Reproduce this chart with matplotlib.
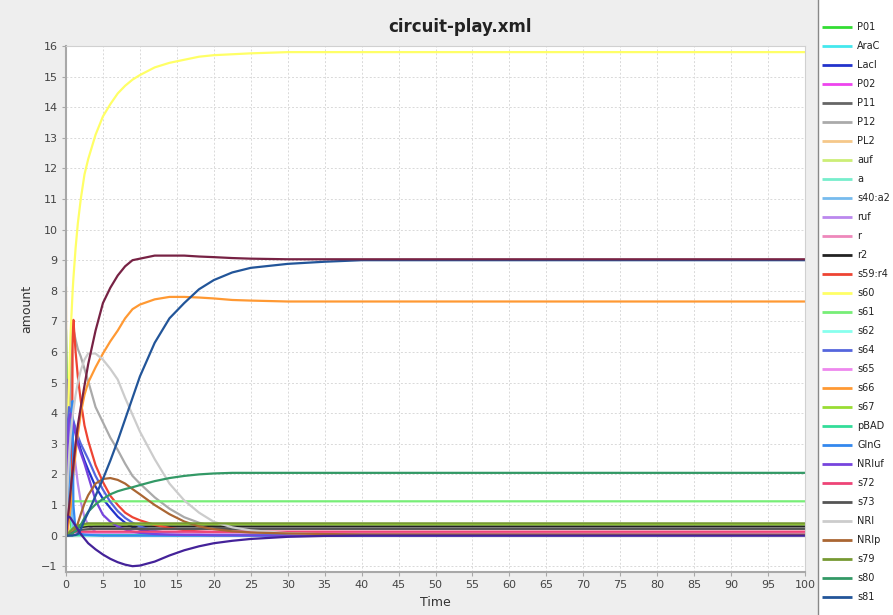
#!/usr/bin/env python3
# circuit-play.xml simulation output, redrawn with matplotlib
import numpy as np
from matplotlib import pyplot as plt

plt.rcParams["font.family"] = ["DejaVu Sans"]

# sample times (shared by every species)
time_pts = [0, 0.1, 0.2, 0.4, 0.6, 0.8, 0.9, 1.0, 1.3, 1.6, 2, 2.5, 3, 4, 5, 6, 7, 8, 9, 10,
            12, 14, 16, 18, 20, 22.5, 25, 30, 35, 40, 100]

P01 = [6.7, 5.5, 3.8, 1.5, 0.5, 0.15, 0.08, 0.05, 0.02, 0.01, 0, 0, 0, 0, 0, 0, 0, 0, 0, 0,
       0, 0, 0, 0, 0, 0, 0, 0, 0, 0, 0]
AraC = [0, 1.5, 2.5, 2.6, 1.5, 0.6, 0.4, 0.3, 0.1, 0.05, 0.02, 0.01, 0, 0, 0, 0, 0, 0, 0, 0,
        0, 0, 0, 0, 0, 0, 0, 0, 0, 0, 0]
LacI = [0, 5.1, 4.9, 4.5, 4.2, 3.9, 3.8, 3.7, 3.4, 3.15, 2.8, 2.45, 2.15, 1.6, 1.2, 0.9, 0.62, 0.42, 0.28, 0.19,
        0.12, 0.07, 0.04, 0.03, 0.02, 0.02, 0.02, 0.01, 0.01, 0.01, 0]
P02 = [0, 0.02, 0.04, 0.06, 0.07, 0.08, 0.08, 0.08, 0.08, 0.08, 0.08, 0.08, 0.08, 0.08, 0.08, 0.08, 0.08, 0.08, 0.08, 0.08,
       0.08, 0.08, 0.08, 0.08, 0.08, 0.08, 0.08, 0.08, 0.08, 0.08, 0.08]
P11 = [0] * 31
P12 = [0, 0.5, 1.2, 2.6, 4.5, 6.9, 6.85, 6.75, 6.4, 6.1, 5.85, 5.45, 5.05, 4.2, 3.7, 3.2, 2.8, 2.35, 1.95, 1.7,
       1.25, 0.88, 0.6, 0.42, 0.3, 0.2, 0.14, 0.07, 0.04, 0.02, 0]
PL2 = [8.1, 2.0, 0.6, 0.15, 0.05, 0.02, 0.01, 0, 0, 0, 0, 0, 0, 0, 0, 0, 0, 0, 0, 0,
       0, 0, 0, 0, 0, 0, 0, 0, 0, 0, 0]
auf = [0, 0.3, 0.25, 0.15, 0.1, 0.06, 0.05, 0.04, 0.03, 0.02, 0.02, 0.02, 0.02, 0.02, 0.02, 0.02, 0.02, 0.02, 0.02, 0.02,
       0.02, 0.02, 0.02, 0.02, 0.02, 0.02, 0.02, 0.02, 0.02, 0.02, 0.02]
a = [0, 2.0, 2.7, 1.8, 0.8, 0.3, 0.2, 0.1, 0.05, 0.02, 0, 0, 0, 0, 0, 0, 0, 0, 0, 0,
     0, 0, 0, 0, 0, 0, 0, 0, 0, 0, 0]
s40_a2 = [0, 0.5, 1.2, 2.0, 1.5, 0.8, 0.5, 0.3, 0.1, 0.05, 0.02, 0, 0, 0, 0, 0, 0, 0, 0, 0,
          0, 0, 0, 0, 0, 0, 0, 0, 0, 0, 0]
ruf = [0, 1.0, 2.2, 3.5, 3.7, 3.4, 3.2, 3.0, 2.3, 1.7, 1.1, 0.6, 0.35, 0.12, 0.05, 0.03, 0.02, 0.02, 0.02, 0.02,
       0.02, 0.02, 0.02, 0.02, 0.02, 0.02, 0.02, 0.02, 0.02, 0.02, 0.02]
r = [0, 0.02, 0.05, 0.08, 0.09, 0.1, 0.1, 0.1, 0.1, 0.1, 0.1, 0.1, 0.1, 0.1, 0.1, 0.1, 0.1, 0.1, 0.1, 0.1,
     0.1, 0.1, 0.1, 0.1, 0.1, 0.1, 0.1, 0.1, 0.1, 0.1, 0.1]
r2 = [0, 0, 0.02, 0.05, 0.1, 0.15, 0.17, 0.2, 0.24, 0.26, 0.28, 0.29, 0.3, 0.3, 0.3, 0.3, 0.3, 0.3, 0.3, 0.3,
      0.3, 0.3, 0.3, 0.3, 0.3, 0.3, 0.3, 0.3, 0.3, 0.3, 0.3]
s59_r4 = [0, 0.1, 0.3, 0.6, 1.0, 2.0, 6.5, 7.05, 6.0, 5.2, 4.4, 3.6, 3.1, 2.3, 1.75, 1.3, 1.0, 0.75, 0.6, 0.5,
          0.35, 0.25, 0.18, 0.13, 0.1, 0.08, 0.07, 0.05, 0.05, 0.05, 0.05]
s60 = [0, 1.5, 3, 5, 6.5, 7.5, 8, 8.4, 9.4, 10.2, 11, 11.8, 12.3, 13.1, 13.7, 14.1, 14.45, 14.7, 14.9, 15.05,
       15.3, 15.45, 15.55, 15.65, 15.7, 15.73, 15.76, 15.8, 15.8, 15.8, 15.8]
s61 = [0, 0.3, 0.6, 1.0, 1.1, 1.12, 1.12, 1.12, 1.12, 1.12, 1.12, 1.12, 1.12, 1.12, 1.12, 1.12, 1.12, 1.12, 1.12, 1.12,
       1.12, 1.12, 1.12, 1.12, 1.12, 1.12, 1.12, 1.12, 1.12, 1.12, 1.12]
s62 = [0, 0.05, 0.03, 0.01, 0, 0, 0, 0, 0, 0, 0, 0, 0, 0, 0, 0, 0, 0, 0, 0,
       0, 0, 0, 0, 0, 0, 0, 0, 0, 0, 0]
s64 = [0, 2.0, 3.5, 4.2, 4.1, 3.95, 3.85, 3.75, 3.5, 3.25, 3.0, 2.75, 2.5, 1.95, 1.5, 1.1, 0.8, 0.58, 0.42, 0.3,
       0.15, 0.08, 0.05, 0.03, 0.02, 0.02, 0.01, 0.01, 0, 0, 0]
s65 = [0, 0.02, 0.04, 0.05, 0.06, 0.06, 0.06, 0.06, 0.06, 0.06, 0.06, 0.06, 0.06, 0.06, 0.06, 0.06, 0.06, 0.06, 0.06, 0.06,
       0.06, 0.06, 0.06, 0.06, 0.06, 0.06, 0.06, 0.06, 0.06, 0.06, 0.06]
s66 = [0, 0.05, 0.2, 0.5, 0.9, 1.4, 1.7, 2.0, 2.7, 3.3, 4.0, 4.6, 5.0, 5.5, 5.95, 6.35, 6.7, 7.1, 7.4, 7.55,
       7.72, 7.8, 7.8, 7.78, 7.75, 7.7, 7.68, 7.65, 7.65, 7.65, 7.65]
s67 = [0, 0.01, 0.03, 0.08, 0.12, 0.17, 0.19, 0.21, 0.26, 0.29, 0.32, 0.34, 0.36, 0.37, 0.37, 0.37, 0.37, 0.37, 0.37, 0.37,
       0.37, 0.37, 0.37, 0.37, 0.37, 0.37, 0.37, 0.37, 0.37, 0.37, 0.37]
pBAD = [0, 0.01, 0.02, 0.02, 0.02, 0.02, 0.02, 0.02, 0.02, 0.02, 0.02, 0.02, 0.02, 0.02, 0.02, 0.02, 0.02, 0.02, 0.02, 0.02,
        0.02, 0.02, 0.02, 0.02, 0.02, 0.02, 0.02, 0.02, 0.02, 0.02, 0.02]
GlnG = [0, 0.5, 1.0, 2.0, 3.0, 4.2, 4.4, 1.0, 0.15, 0.08, 0.05, 0.03, 0.02, 0.01, 0, 0, 0, 0, 0, 0,
        0, 0, 0, 0, 0, 0, 0, 0, 0, 0, 0]
NRIuf = [0, 1.5, 2.8, 3.8, 4.0, 3.8, 3.7, 3.6, 3.3, 3.0, 2.7, 2.35, 1.95, 1.15, 0.68, 0.45, 0.3, 0.2, 0.13, 0.09,
         0.05, 0.03, 0.02, 0.02, 0.01, 0.01, 0.01, 0, 0, 0, 0]
s72 = [0, 0.02, 0.04, 0.07, 0.09, 0.11, 0.12, 0.12, 0.13, 0.13, 0.13, 0.13, 0.13, 0.13, 0.13, 0.13, 0.13, 0.13, 0.13, 0.13,
       0.13, 0.13, 0.13, 0.13, 0.13, 0.13, 0.13, 0.13, 0.13, 0.13, 0.13]
s73 = [0, 0, 0.01, 0.03, 0.06, 0.09, 0.1, 0.12, 0.15, 0.17, 0.19, 0.2, 0.21, 0.22, 0.22, 0.22, 0.22, 0.22, 0.22, 0.22,
       0.22, 0.22, 0.22, 0.22, 0.22, 0.22, 0.22, 0.22, 0.22, 0.22, 0.22]
NRI = [0, 0.8, 1.5, 2.5, 3.2, 3.7, 3.9, 4.1, 4.6, 5.0, 5.4, 5.75, 5.95, 5.95, 5.75, 5.45, 5.1, 4.5, 3.95, 3.4,
       2.5, 1.7, 1.15, 0.75, 0.45, 0.27, 0.17, 0.08, 0.04, 0.02, 0]
NRIp = [0, 0, 0, 0.01, 0.02, 0.05, 0.08, 0.12, 0.25, 0.4, 0.7, 1.05, 1.32, 1.7, 1.85, 1.88, 1.82, 1.7, 1.52, 1.35,
        1.0, 0.7, 0.46, 0.3, 0.21, 0.14, 0.1, 0.07, 0.05, 0.04, 0.03]
s79 = [0, 0.02, 0.05, 0.1, 0.15, 0.2, 0.22, 0.25, 0.3, 0.33, 0.36, 0.38, 0.4, 0.4, 0.4, 0.4, 0.4, 0.4, 0.4, 0.4,
       0.4, 0.4, 0.4, 0.4, 0.4, 0.4, 0.4, 0.4, 0.4, 0.4, 0.4]
s80 = [0, 0, 0.01, 0.02, 0.04, 0.07, 0.08, 0.1, 0.15, 0.22, 0.35, 0.58, 0.78, 1.02, 1.2, 1.35, 1.45, 1.52, 1.58, 1.65,
       1.78, 1.88, 1.95, 2.0, 2.03, 2.05, 2.05, 2.05, 2.05, 2.05, 2.05]
s81 = [0, 0, 0, 0, 0, 0, 0, 0.01, 0.02, 0.05, 0.2, 0.5, 0.75, 1.3, 1.85, 2.45, 3.1, 3.8, 4.5, 5.2,
       6.3, 7.1, 7.6, 8.05, 8.35, 8.6, 8.75, 8.88, 8.95, 9.0, 9.0]
# species whose legend rows fall below the visible panel
s1_15 = [0, 0.2, 0.5, 0.9, 1.4, 1.9, 2.1, 2.3, 3.0, 3.6, 4.2, 4.9, 5.6, 6.7, 7.6, 8.1, 8.5, 8.8, 9.0, 9.05,
         9.15, 9.15, 9.15, 9.12, 9.1, 9.07, 9.05, 9.03, 9.03, 9.03, 9.03]
s2_16 = [0, 0.4, 0.6, 0.62, 0.58, 0.5, 0.47, 0.43, 0.32, 0.2, 0.05, -0.1, -0.25, -0.45, -0.62, -0.76, -0.87, -0.95, -1.0, -0.98,
         -0.85, -0.65, -0.48, -0.35, -0.25, -0.17, -0.11, -0.04, -0.01, 0, 0]

species = [
    ("P01", P01, "#33dd33"), ("AraC", AraC, "#44e8ee"), ("LacI", LacI, "#2233cc"),
    ("P02", P02, "#ee44ee"), ("P11", P11, "#666666"), ("P12", P12, "#aaaaaa"),
    ("PL2", PL2, "#f5c88a"), ("auf", auf, "#ccee77"), ("a", a, "#77eecc"),
    ("s40:a2", s40_a2, "#77bbee"), ("ruf", ruf, "#bb88ee"), ("r", r, "#ee88bb"),
    ("r2", r2, "#222222"), ("s59:r4", s59_r4, "#ee4433"), ("s60", s60, "#ffff66"),
    ("s61", s61, "#77ee77"), ("s62", s62, "#88ffee"), ("s64", s64, "#5566dd"),
    ("s65", s65, "#ee88ee"), ("s66", s66, "#ff9933"), ("s67", s67, "#99dd33"),
    ("pBAD", pBAD, "#33dd99"), ("GlnG", GlnG, "#3388ee"), ("NRIuf", NRIuf, "#7744dd"),
    ("s72", s72, "#ee4477"), ("s73", s73, "#555555"), ("NRI", NRI, "#cccccc"),
    ("NRIp", NRIp, "#aa6633"), ("s79", s79, "#779933"), ("s80", s80, "#339966"),
    ("s81", s81, "#225599"), ("s1:15", s1_15, "#772244"), ("s2:16", s2_16, "#442299"),
]

W, H = 893, 615
fig = plt.figure(figsize=(W / 100, H / 100), dpi=100, facecolor="#eeeeee")
ax = fig.add_axes([66 / W, 43 / H, 739 / W, 526 / H])
ax.set_facecolor("white")

for name, vals, col in species:
    ax.plot(time_pts, vals, color=col, linewidth=1.6, solid_joinstyle="round")

ax.set_xlim(0, 100)
ax.set_ylim(-1.19, 16)
ax.set_xticks(np.arange(0, 101, 5))
ax.set_yticks(np.arange(-1, 17, 1))
ax.grid(True, color="#d9d9d9", linewidth=0.7, linestyle=(0, (2, 2)))
ax.set_axisbelow(True)
for side in ["left", "bottom"]:
    ax.spines[side].set_color("#a8a8a8")
    ax.spines[side].set_linewidth(1.5)
for side in ["top", "right"]:
    ax.spines[side].set_color("#d0d0d0")
    ax.spines[side].set_linewidth(0.8)
ax.tick_params(direction="out", length=3, width=0.8, color="#a8a8a8", labelsize=8, labelcolor="#444444", pad=3)
ax.set_xlabel("Time", fontsize=9, color="#333333", labelpad=4)
ax.set_ylabel("amount", fontsize=9, color="#333333", labelpad=6)

fig.text(460 / W, 1 - 27 / H, "circuit-play.xml", ha="center", va="center", fontsize=12, fontweight="bold", color="#222222")

# legend panel on the right, rows 19px apart; rows past the window bottom are not shown
lax = fig.add_axes([818 / W, 0, (W - 818) / W, 1])
lax.set_facecolor("white")
lax.set_xlim(0, W - 818)
lax.set_ylim(H, 0)
lax.set_xticks([])
lax.set_yticks([])
for side in ["top", "right", "bottom"]:
    lax.spines[side].set_visible(False)
lax.spines["left"].set_color("#888888")
lax.spines["left"].set_linewidth(1.0)
for i, (name, vals, col) in enumerate(species):
    yy = 27 + 19 * i
    if yy + 6 > H:
        break
    lax.plot([4, 34], [yy, yy], color=col, linewidth=2.0, solid_capstyle="butt")
    lax.text(39, yy, name, fontsize=7, va="center", ha="left", color="#222222")

fig.savefig("out.png", dpi=100, facecolor=fig.get_facecolor())
